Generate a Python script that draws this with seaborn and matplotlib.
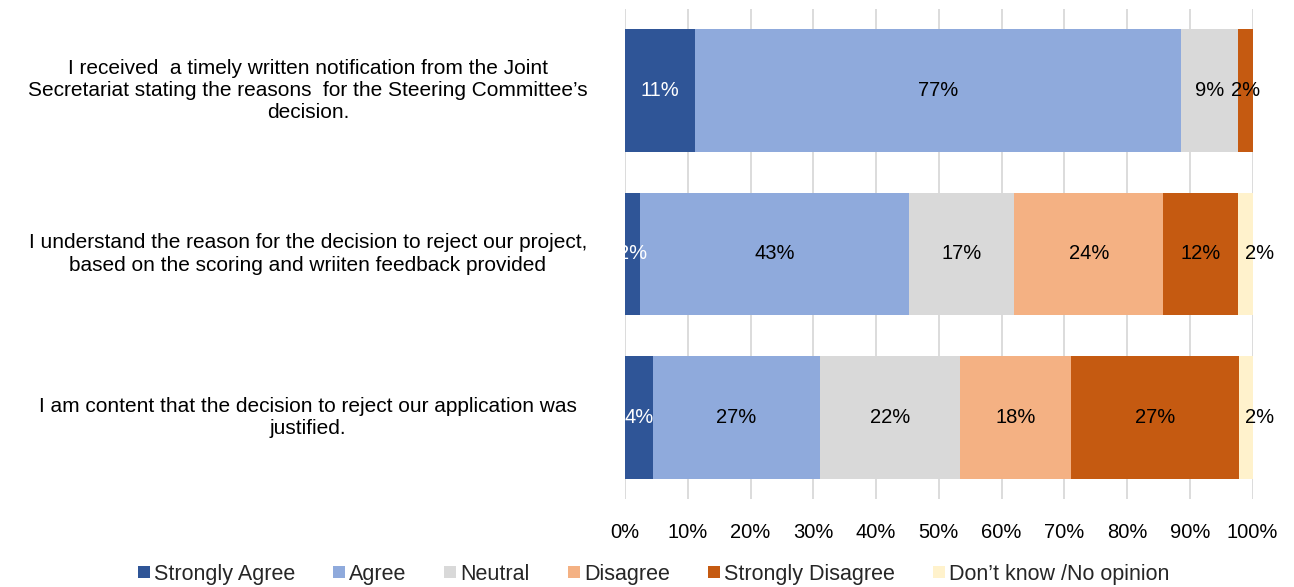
import numpy as np
import matplotlib
matplotlib.use("Agg")
import matplotlib.pyplot as plt
from matplotlib.patches import Patch
from matplotlib.transforms import blended_transform_factory
import seaborn as sns

questions = [
    "I received  a timely written notification from the Joint\nSecretariat stating the reasons  for the Steering Committee\u2019s\ndecision.",
    "I understand the reason for the decision to reject our project,\nbased on the scoring and wriiten feedback provided",
    "I am content that the decision to reject our application was\njustified.",
]
responses = ["Strongly Agree", "Agree", "Neutral", "Disagree",
             "Strongly Disagree", "Don\u2019t know /No opinion"]

strongly_agree = [11.2, 2.4, 4.4]
agree = [77.4, 42.9, 26.7]
neutral = [9.1, 16.7, 22.2]
disagree = [0.0, 23.8, 17.8]
strongly_disagree = [2.3, 11.9, 26.7]
dont_know = [0.0, 2.4, 2.2]

colors = ["#2F5597", "#8FAADC", "#D9D9D9", "#F4B183", "#C55A11", "#FFF2CC"]
label_colors = ["white", "black", "black", "black", "black", "black"]
tick_labels = [f"{t}%" for t in range(0, 101, 10)]

sns.set_theme(style="white")
plt.rcParams["font.family"] = ["Liberation Sans", "DejaVu Sans"]

values = np.array([strongly_agree, agree, neutral, disagree,
                   strongly_disagree, dont_know])
cum = np.cumsum(values, axis=0)

fig = plt.figure(figsize=(12.94, 5.87), dpi=100)
ax = fig.add_axes([0.483, 0.15, 0.485, 0.835])

# stacked bars: draw cumulative totals from the outermost segment inward
for j in range(len(responses) - 1, -1, -1):
    sns.barplot(x=cum[j], y=questions, color=colors[j], orient="h",
                width=0.75, saturation=1, linewidth=0, edgecolor="none",
                ax=ax, zorder=2)

# segment labels
for j in range(len(responses)):
    for i in range(len(questions)):
        v = values[j, i]
        if v <= 0:
            continue
        xc = cum[j, i] - v / 2
        dx = 14 if j == len(responses) - 1 else 0
        ax.annotate(f"{v:.0f}%", (xc, i), xytext=(dx, 0),
                    textcoords="offset pixels",
                    ha="center", va="center", fontsize=14.5,
                    color=label_colors[j], zorder=3, annotation_clip=False)

ax.set_xlim(0, 100)
ax.set_ylim(2.5, -0.5)
ax.set_xticks(range(0, 101, 10))
ax.set_xticklabels(tick_labels, fontsize=14.5, color="black")
ax.tick_params(axis="x", length=0, pad=17)
ax.set_yticks(range(len(questions)))
ax.set_yticklabels([])
ax.tick_params(axis="y", length=0)

# question labels, centred in the space left of the bars
trans = blended_transform_factory(fig.transFigure, ax.transData)
for i, q in enumerate(questions):
    ax.text(0.238, i, q, transform=trans, ha="center", va="center",
            multialignment="center", fontsize=15, linespacing=1.22,
            color="black")

ax.set_xlabel("")
ax.set_ylabel("")
ax.grid(axis="x", color="#D9D9D9", linewidth=1.3, zorder=0)
ax.set_axisbelow(True)
for s in ax.spines.values():
    s.set_visible(False)

handles = [Patch(facecolor=c, edgecolor="none") for c in colors]
fig.legend(handles, responses, loc="center", bbox_to_anchor=(0.505, 0.022),
           ncol=6, frameon=False, fontsize=15.5, handlelength=0.56,
           handleheight=0.47, handletextpad=0.2, columnspacing=1.75,
           borderpad=0, borderaxespad=0)

fig.savefig("out.png", dpi=100)
